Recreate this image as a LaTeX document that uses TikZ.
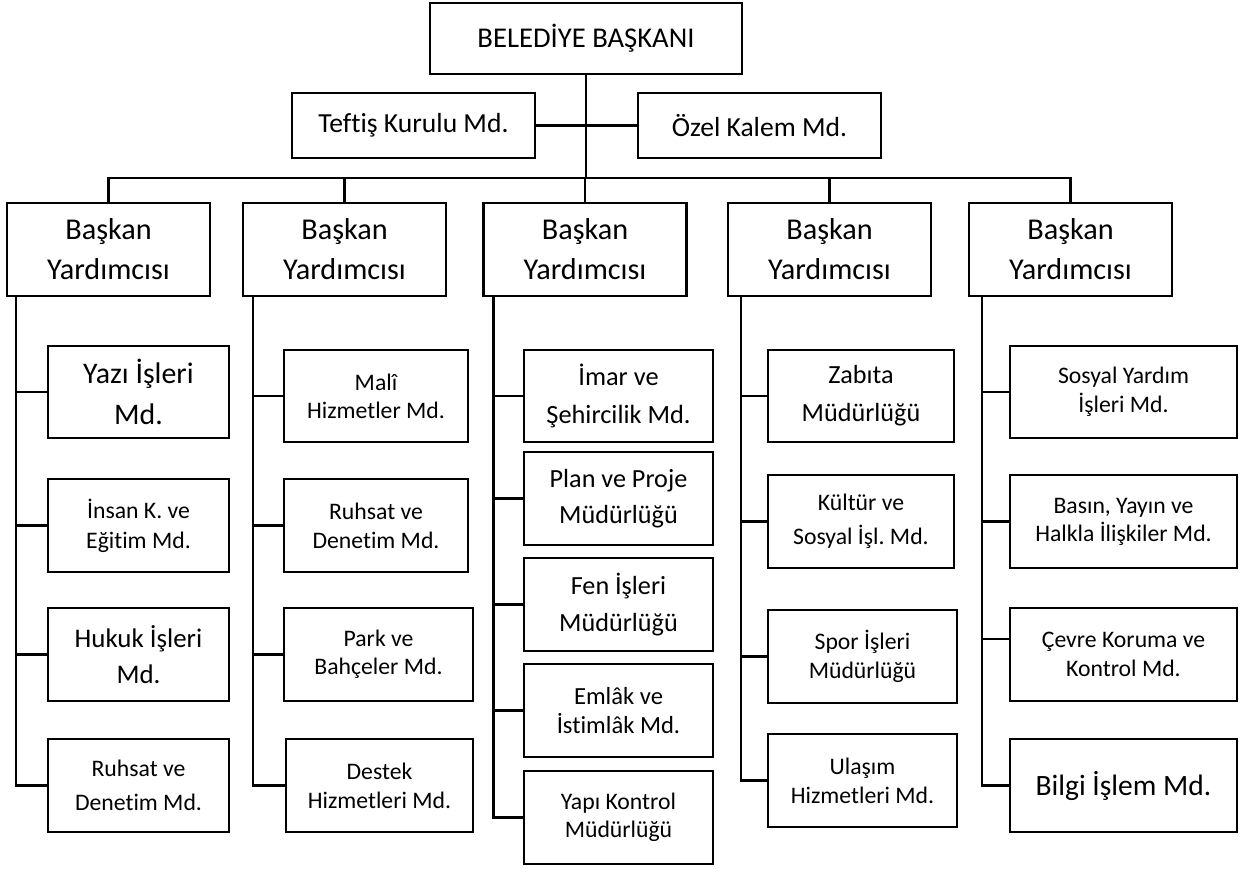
\documentclass[tikz,border=0pt]{standalone}
\usepackage{fontspec}
\setmainfont{Carlito}[Ligatures={NoCommon}]
\frenchspacing

\begin{document}
\begin{tikzpicture}[
  x=0.02cm, y=-0.02cm, line width=1.2pt,
  every node/.style={draw, align=center, inner sep=1pt},
  fs/.style 2 args={font=\fontsize{#1}{#2}\selectfont},
  head/.style={minimum width=6.24cm, minimum height=1.42cm, fs={16.3}{19}},
  staff/.style={minimum width=4.86cm, minimum height=1.30cm, fs={15.7}{18}},
  yard/.style={minimum width=4.06cm, minimum height=1.86cm, fs={17.2}{22.8}},
  unit/.style={minimum width=#1, minimum height=1.85cm, fs={13.5}{16.5}}]
  \useasboundingbox (0,0) rectangle (1242,869);
  % üst kademe
  \node[head]  (bb)     at (586,38.5)    {BELEDİYE BAŞKANI};
  \node[staff] (teftis) at (413.5,125.5) {Teftiş Kurulu Md.};
  \node[staff] (ozel)   at (759.5,125.5) {Özel Kalem Md.};
  % başkan yardımcıları
  \node[yard] (y1) at (108.5,249.5)  {Başkan\\Yardımcısı};
  \node[yard] (y2) at (344.5,249.5)  {Başkan\\Yardımcısı};
  \node[yard] (y3) at (585,249.5)    {Başkan\\Yardımcısı};
  \node[yard] (y4) at (829.5,249.5)  {Başkan\\Yardımcısı};
  \node[yard] (y5) at (1070.5,249.5) {Başkan\\Yardımcısı};
  % 1. sütun
  \node[unit=3.62cm, fs={17}{23.1}]   (yazi)    at (138.5,392)   {Yazı İşleri\\Md.};
  \node[unit=3.62cm, fs={13.5}{17}]   (insan)   at (138.5,525.5) {İnsan K. ve\\Eğitim Md.};
  \node[unit=3.62cm, fs={15.3}{20.9}] (hukuk)   at (138.5,654.5) {Hukuk İşleri\\Md.};
  \node[unit=3.62cm, fs={13.5}{19}]   (ruhsatA) at (138.5,785.5) {Ruhsat ve\\Denetim Md.};
  % 2. sütun
  \node[unit=3.68cm, fs={13.5}{16}] (mali)    at (376,396)     {Malî\\Hizmetler Md.};
  \node[unit=3.68cm]                (ruhsatB) at (376,525.5)   {Ruhsat ve\\Denetim Md.};
  \node[unit=3.78cm, fs={13.5}{16}] (park)    at (378.5,654.5) {Park ve\\Bahçeler Md.};
  \node[unit=3.74cm]                (destek)  at (379.5,785.5) {Destek\\Hizmetleri Md.};
  % 3. sütun
  \node[unit=3.78cm, fs={15}{21.6}]   (imar)  at (618.5,396)   {İmar ve\\Şehircilik Md.};
  \node[unit=3.78cm, fs={14.9}{20.5}] (plan)  at (618.5,498.5) {Plan ve Proje\\Müdürlüğü};
  \node[unit=3.78cm, fs={14.9}{21}]   (fen)   at (618.5,604.5) {Fen İşleri\\Müdürlüğü};
  \node[unit=3.78cm, fs={14}{16}]     (emlak) at (618.5,710.5) {Emlâk ve\\İstimlâk Md.};
  \node[unit=3.78cm, fs={13.5}{16}]   (yapi)  at (618.5,817.5) {Yapı Kontrol\\Müdürlüğü};
  % 4. sütun
  \node[unit=3.72cm, fs={14.9}{21.6}] (zabita) at (861,396)     {Zabıta\\Müdürlüğü};
  \node[unit=3.72cm, fs={13.5}{19.4}] (kultur) at (861,521.5)   {Kültür ve\\Sosyal İşl. Md.};
  \node[unit=3.78cm]                  (spor)   at (862.5,656.5) {Spor İşleri\\Müdürlüğü};
  \node[unit=3.78cm]                  (ulasim) at (862.5,780.5) {Ulaşım\\Hizmetleri Md.};
  % 5. sütun
  \node[unit=4.54cm]                (sosyal) at (1123.5,392)   {Sosyal Yardım\\İşleri Md.};
  \node[unit=4.54cm, fs={13.5}{16}] (basin)  at (1123.5,521.5) {Basın, Yayın ve\\Halkla İlişkiler Md.};
  \node[unit=4.54cm]                (cevre)  at (1123.5,654.5) {Çevre Koruma ve\\Kontrol Md.};
  \node[unit=4.54cm, fs={16.8}{20}] (bilgi)  at (1123.5,785.5) {Bilgi İşlem Md.};

  % bağlantılar
  \coordinate (bus) at (0,178);
  \draw (bb) -- (bb |- bus);
  \draw (teftis) -- (ozel);
  \draw (y1) -- (y1 |- bus) -- (y5 |- bus) -- (y5);
  \foreach \n in {y2,y3,y4} \draw (\n) -- (\n |- bus);

  \coordinate (t1) at ([xshift=0.20cm]y1.south west);
  \coordinate (t2) at ([xshift=0.22cm]y2.south west);
  \coordinate (t3) at ([xshift=0.22cm]y3.south west);
  \coordinate (t4) at ([xshift=0.28cm]y4.south west);
  \coordinate (t5) at ([xshift=0.28cm]y5.south west);
  \foreach \c in {yazi,insan,hukuk,ruhsatA} \draw (t1) |- (\c.west);
  \foreach \c in {mali,ruhsatB,park,destek} \draw (t2) |- (\c.west);
  \foreach \c in {imar,plan,fen,emlak,yapi} \draw (t3) |- (\c.west);
  \foreach \c in {zabita,kultur,spor,ulasim} \draw (t4) |- (\c.west);
  \foreach \c in {sosyal,basin,bilgi} \draw (t5) |- (\c.west);
  \draw (t5) |- ([yshift=0.31cm]cevre.west);
\end{tikzpicture}
\end{document}
